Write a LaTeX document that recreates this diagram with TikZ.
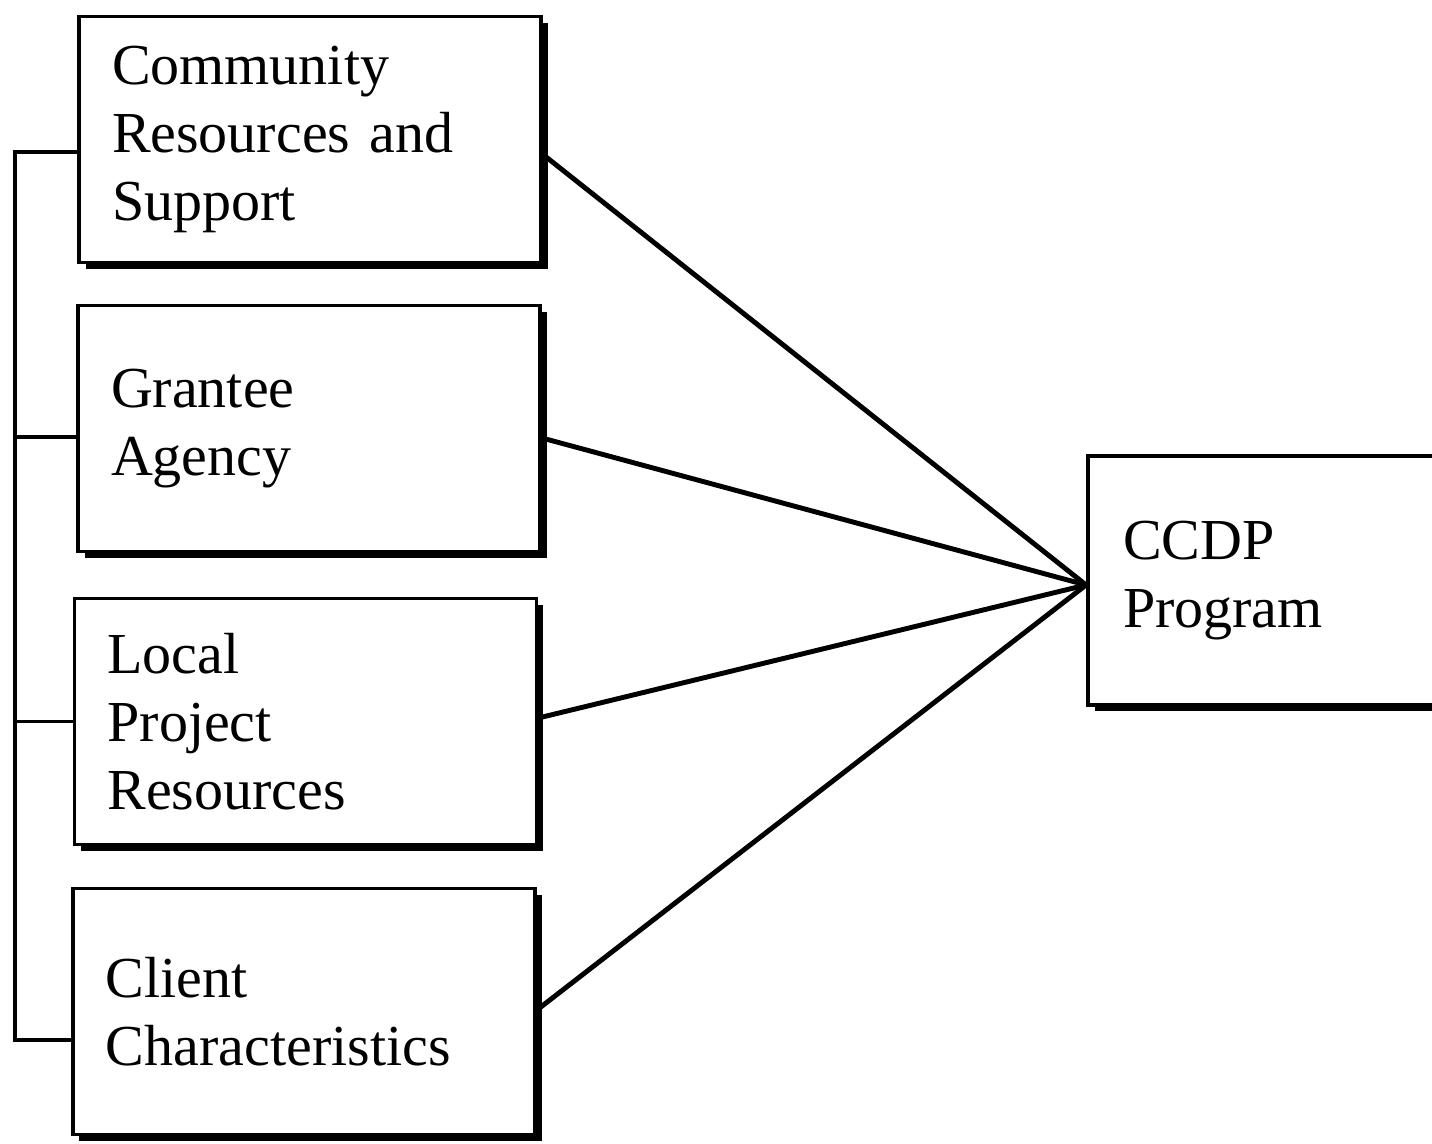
\documentclass[tikz,border=0pt]{standalone}
\usepackage{fontspec}
\setmainfont{Liberation Serif}
\usetikzlibrary{shadows}

\begin{document}
\begin{tikzpicture}[line width=1.1pt,main node/.style={rectangle,draw,fill=white,minimum width=4.62cm,minimum height=2.46cm,text width=3.96cm,align=left,inner xsep=0.33cm,font=\fontsize{16.5}{19.4}\selectfont,drop shadow={shadow xshift=0.65mm,shadow yshift=-0.65mm,opacity=1,fill=black}}]
  \useasboundingbox (0,0) rectangle (14.32,11.44);

  \node[main node] (b1) at (3.10,10.045) {Community\\Resources and\\Support};
  \node[main node] (b2) at (3.09,7.155) {Grantee\\Agency};
  \node[main node] (b3) at (3.055,4.225) {Local\\Project\\Resources};
  \node[main node] (b4) at (3.04,1.325) {Client\\Characteristics};
  \node[main node,minimum width=3.6cm,minimum height=2.49cm,text width=2.9cm,inner xsep=0.35cm] (ccdp) at (12.68,5.635) {CCDP\\Program};

  % bracket joining the four boxes on the left
  \coordinate (bot) at (0.15,1.04);
  \draw ([yshift=-1.25mm]b1.west) -| (bot) -- ([yshift=-2.85mm]b4.west);
  \draw ([yshift=-0.85mm]b2.west) -| (bot);
  \draw (b3.west) -| (bot);

  % links into the program box
  \coordinate (hub) at ([yshift=-0.45mm]ccdp.west);
\path[line width=1.4pt]
  ([yshift=-1.5mm]b1.east) edge (hub)
  ([yshift=-0.95mm]b2.east) edge (hub)
  ([yshift=0.35mm]b3.east) edge (hub)
  ([yshift=0.15mm]b4.east) edge (hub)
;
\end{tikzpicture}
\end{document}
